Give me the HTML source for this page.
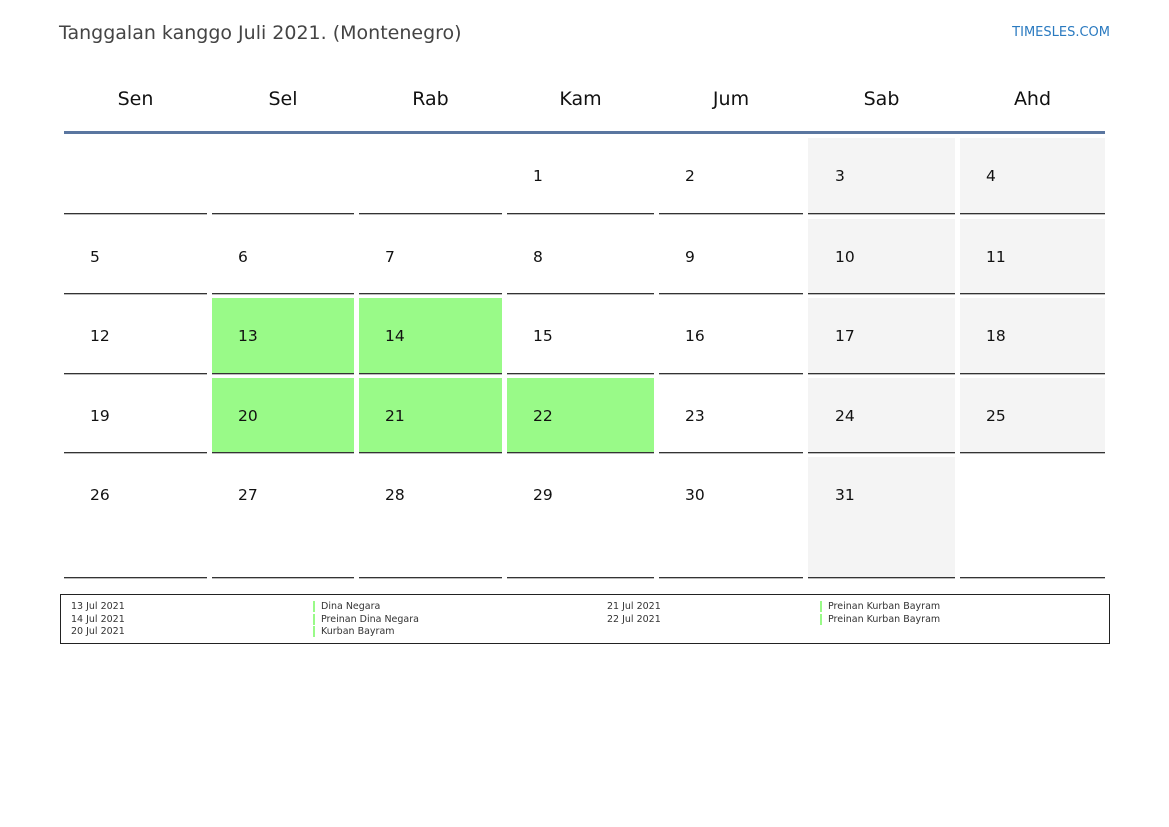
<!DOCTYPE html>
<html><head><meta charset="utf-8"><style>
body{margin:0;width:1169px;height:827px;background:#fff;position:relative;font-family:"DejaVu Sans","Liberation Sans",sans-serif;overflow:hidden}
div{position:absolute}
.h{font-size:19px;color:#111;top:88px;text-align:center}
.n{font-size:15.5px;color:#111}
.l{height:1px;background:#333;border-bottom:1px solid #bbb}
.g{background:#99fa88}
.w{background:#f4f4f4}
.t{font-size:9.5px;color:#333;line-height:12.5px}
.b{width:2px;height:11px;background:#99fa88}
</style></head><body>
<div style="left:59px;top:22px;font-size:19px;color:#444">Tanggalan kanggo Juli 2021. (Montenegro)</div>
<div style="right:59px;top:25px;font-size:13px;color:#2a7ac0">TIMESLES.COM</div>
<div class="h" style="left:64px;width:143px">Sen</div>
<div class="h" style="left:212px;width:142px">Sel</div>
<div class="h" style="left:359px;width:143px">Rab</div>
<div class="h" style="left:507px;width:147px">Kam</div>
<div class="h" style="left:659px;width:144px">Jum</div>
<div class="h" style="left:808px;width:147px">Sab</div>
<div class="h" style="left:960px;width:145px">Ahd</div>
<div style="left:64px;top:131px;width:1041px;height:3px;background:#5a76a0"></div>
<div id="grid"></div>
<script>
var X=[64,212,359,507,659,808,960],W=[143,142,143,147,144,147,145],TX=[90,238,385,533,685,835,986];
var TOP=[138,219,298,378,457],BOT=[213,293,373,452,577];
var green={13:1,14:1,20:1,21:1,22:1};var h='';
for(var r=0;r<5;r++)for(var c=0;c<7;c++){var d=r*7+c-2;
var bg='';if(d>=1&&d<=31&&green[d])bg='g';else if(c>=5&&(d>=1&&d<=31))bg='w';
if(bg)h+='<div class="'+bg+'" style="left:'+X[c]+'px;top:'+TOP[r]+'px;width:'+W[c]+'px;height:'+(BOT[r]-TOP[r])+'px"></div>';
if(d>=1&&d<=31)h+='<div class="n" style="left:'+TX[c]+'px;top:'+(TOP[r]+29)+'px">'+d+'</div>';
h+='<div class="l" style="left:'+X[c]+'px;top:'+BOT[r]+'px;width:'+W[c]+'px"></div>';}
document.getElementById('grid').outerHTML=h;
</script>
<div style="left:60px;top:594px;width:1048px;height:48px;border:1px solid #222"></div>
<div class="t" style="left:71px;top:601px">13 Jul 2021<br>14 Jul 2021<br>20 Jul 2021</div>
<div class="b" style="left:313px;top:601px"></div><div class="b" style="left:313px;top:614px"></div><div class="b" style="left:313px;top:626px"></div>
<div class="t" style="left:321px;top:601px">Dina Negara<br>Preinan Dina Negara<br>Kurban Bayram</div>
<div class="t" style="left:607px;top:601px">21 Jul 2021<br>22 Jul 2021</div>
<div class="b" style="left:820px;top:601px"></div><div class="b" style="left:820px;top:614px"></div>
<div class="t" style="left:828px;top:601px">Preinan Kurban Bayram<br>Preinan Kurban Bayram</div>
</body></html>
